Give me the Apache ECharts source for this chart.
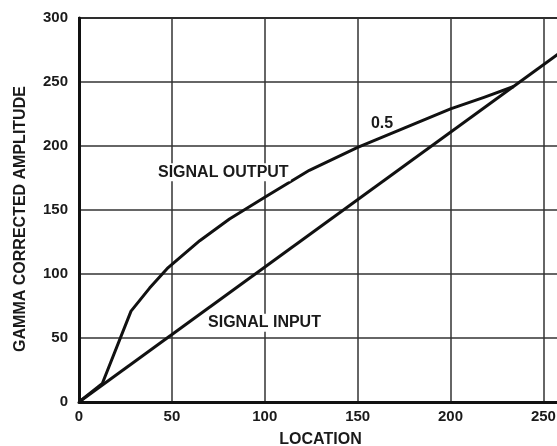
<!DOCTYPE html>
<html>
<head>
<meta charset="utf-8">
<script src="https://cdn.jsdelivr.net/npm/echarts@6/dist/echarts.min.js"></script>
<style>
  html, body { margin: 0; padding: 0; background: #fff; }
  #chart { width: 557px; height: 446px; }
</style>
</head>
<body>
<div id="chart"></div>
<script>
// Gamma correction: straight input ramp vs. gamma 0.5 output curve
const xTicks = [0, 50, 100, 150, 200, 250];
const yTicks = [0, 50, 100, 150, 200, 250, 300];

const signalInput = [
  [0, 0], [260, 274]
];

const signalOutput = [
  [0, 0], [12.6, 14.6], [28, 71], [38, 89], [48, 105], [65, 126],
  [81, 143], [100, 160], [124, 181], [150, 199], [175, 214],
  [200, 229], [218, 238], [234, 246.5]
];

const FONT = '"Liberation Sans", Arial, Helvetica, sans-serif';
const INK = '#1a1a1a';

const chart = echarts.init(document.getElementById('chart'), null, { renderer: 'canvas' });

chart.setOption({
  animation: false,
  backgroundColor: '#fff',
  grid: {
    left: 79, top: 18, width: 483, height: 384,
    containLabel: false,
    outerBoundsMode: 'none',
    show: true, borderColor: '#222', borderWidth: 2, backgroundColor: 'transparent'
  },
  xAxis: {
    type: 'value',
    min: xTicks[0], max: 260, interval: 50,
    name: 'LOCATION',
    nameLocation: 'middle',
    nameGap: 30,
    nameTextStyle: { fontFamily: FONT, fontWeight: 'bold', fontSize: 16, color: INK },
    axisLine: { show: true, lineStyle: { color: '#111', width: 3 } },
    axisTick: { show: false },
    axisLabel: {
      margin: 7, fontFamily: FONT, fontWeight: 'bold', fontSize: 15, color: INK,
      showMaxLabel: false,
      formatter: v => (xTicks.indexOf(v) >= 0 ? String(v) : '')
    },
    splitLine: { show: true, lineStyle: { color: '#333', width: 1.5 } }
  },
  yAxis: {
    type: 'value',
    min: yTicks[0], max: yTicks[yTicks.length - 1], interval: 50,
    axisLine: { show: true, lineStyle: { color: '#111', width: 3 } },
    axisTick: { show: false },
    axisLabel: {
      margin: 11, fontFamily: FONT, fontWeight: 'bold', fontSize: 15, color: INK
    },
    splitLine: { show: true, lineStyle: { color: '#333', width: 1.5 } }
  },
  series: [
    {
      name: 'SIGNAL INPUT', type: 'line', data: signalInput,
      showSymbol: false, symbol: 'none', z: 5,
      lineStyle: { color: '#111', width: 3 }
    },
    {
      name: 'SIGNAL OUTPUT', type: 'line', data: signalOutput,
      showSymbol: false, symbol: 'none', z: 5,
      lineStyle: { color: '#111', width: 3, join: 'round' }
    }
  ],
  graphic: [
    {
      type: 'text', x: 20.7, y: 219, rotation: Math.PI / 2, z: 10,
      style: {
        text: 'GAMMA CORRECTED AMPLITUDE', font: 'bold 16px ' + FONT, fill: INK,
        align: 'center', verticalAlign: 'middle'
      }
    },
    {
      type: 'text', x: 223.3, y: 172.3, z: 10,
      style: {
        text: 'SIGNAL OUTPUT', font: 'bold 16px ' + FONT, fill: INK,
        align: 'center', verticalAlign: 'middle',
        backgroundColor: '#fff', padding: [1, 2]
      }
    },
    {
      type: 'text', x: 264.5, y: 322.7, z: 10,
      style: {
        text: 'SIGNAL INPUT', font: 'bold 16px ' + FONT, fill: INK,
        align: 'center', verticalAlign: 'middle',
        backgroundColor: '#fff', padding: [1, 2]
      }
    },
    {
      type: 'text', x: 382, y: 124, z: 10,
      style: {
        text: '0.5', font: 'bold 16px ' + FONT, fill: INK,
        align: 'center', verticalAlign: 'middle'
      }
    }
  ]
});
</script>
</body>
</html>
